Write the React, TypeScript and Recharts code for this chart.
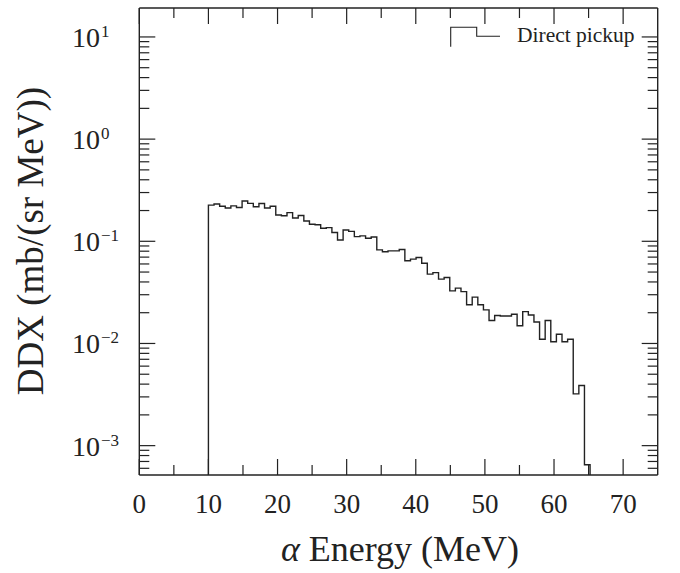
import { LineChart, Line, XAxis, YAxis, Legend } from 'recharts';

// histogram binning (MeV)
const binStart = 10;
const binWidth = 0.812;

// DDX per bin, mb/(sr MeV)
const ddx = [
  0.226, 0.232, 0.22, 0.212, 0.222, 0.214, 0.248, 0.235, 0.218, 0.234,
  0.212, 0.22, 0.181, 0.178, 0.191, 0.169, 0.179, 0.158, 0.147, 0.145,
  0.134, 0.136, 0.122, 0.103, 0.129, 0.125, 0.111, 0.113, 0.107, 0.11,
  0.0824, 0.079, 0.0806, 0.0806, 0.083, 0.0645, 0.0669, 0.0694, 0.061, 0.0477,
  0.0494, 0.0426, 0.0442, 0.0327, 0.0348, 0.0322, 0.0239, 0.0284, 0.0239, 0.0213,
  0.0168, 0.0188, 0.0186, 0.0186, 0.0193, 0.0149, 0.0205, 0.019, 0.0162, 0.011,
  0.0168, 0.0104, 0.0123, 0.0104, 0.011, 0.00321, 0.00388, 0.00065,
];

const xTicks = [0, 5, 10, 15, 20, 25, 30, 35, 40, 45, 50, 55, 60, 65, 70];
const xLabelTicks = [0, 10, 20, 30, 40, 50, 60, 70];
const yDecades = [1e-4, 1e-3, 1e-2, 1e-1, 1, 10];
const yExponents = ['−4', '−3', '−2', '−1', '0', '1'];
const yMin = 5.16e-4;
const yMax = 19.2;

const legendLabel = 'Direct pickup';
const xTitle = 'Energy (MeV)';
const yTitle = 'DDX (mb/(sr MeV))';

const FONT = '"Liberation Serif", "Times New Roman", serif';
const INK = '#222';

const yTicks: number[] = [];
yDecades.forEach((d) => {
  for (let m = 1; m <= 9; m++) {
    const v = d * m;
    if (v >= yMin && v <= yMax) yTicks.push(v);
  }
});

const data: { x: number; y: number }[] = [{ x: binStart, y: yMin }];
ddx.forEach((v, i) => data.push({ x: binStart + i * binWidth, y: v }));
const binEnd = binStart + ddx.length * binWidth;
data.push({ x: binEnd, y: ddx[ddx.length - 1] });
data.push({ x: binEnd, y: yMin });

function decadeIndex(v: number) {
  const lg = Math.log10(v);
  if (Math.abs(lg - Math.round(lg)) > 1e-6) return -1;
  return yDecades.findIndex((d) => Math.abs(Math.log10(d) - lg) < 1e-6);
}

const LeftTick = (props: any) => {
  const { x, y, payload } = props;
  const idx = decadeIndex(payload.value);
  const major = idx >= 0;
  return (
    <g>
      <line x1={x} y1={y} x2={x + (major ? 16 : 10)} y2={y} stroke={INK} strokeWidth={1.2} />
      {major && (
        <text x={72} y={y + 10} fontFamily={FONT} fontSize={28} fill={INK}>
          10
          <tspan dy={-10} dx={1} fontSize={17}>{yExponents[idx]}</tspan>
        </text>
      )}
    </g>
  );
};

const RightTick = (props: any) => {
  const { x, y, payload } = props;
  const major = decadeIndex(payload.value) >= 0;
  return <line x1={x} y1={y} x2={x - (major ? 16 : 10)} y2={y} stroke={INK} strokeWidth={1.2} />;
};

const BottomTick = (props: any) => {
  const { x, y, payload } = props;
  const major = xLabelTicks.includes(payload.value);
  return (
    <g>
      <line x1={x} y1={y} x2={x} y2={y - (major ? 16 : 10)} stroke={INK} strokeWidth={1.2} />
      {major && (
        <text x={x} y={y + 38} textAnchor="middle" fontFamily={FONT} fontSize={27} fill={INK}>
          {payload.value}
        </text>
      )}
    </g>
  );
};

const TopTick = (props: any) => {
  const { x, y, payload } = props;
  const major = xLabelTicks.includes(payload.value);
  return <line x1={x} y1={y} x2={x} y2={y + (major ? 16 : 10)} stroke={INK} strokeWidth={1.2} />;
};

const YTitle = () => (
  <text
    x={43}
    y={241}
    transform="rotate(-90 43 241)"
    textAnchor="middle"
    fontFamily={FONT}
    fontSize={37}
    fill={INK}
  >
    {yTitle}
  </text>
);

const XTitle = () => (
  <text x={400} y={561} textAnchor="middle" fontFamily={FONT} fontSize={36} fill={INK}>
    <tspan fontStyle="italic">α</tspan> {xTitle}
  </text>
);

const LegendBox = () => (
  <svg width={220} height={50}>
    <path d="M10.7 46.7 V27.3 H36.7 V36.3 H60" fill="none" stroke={INK} strokeWidth={1.1} />
    <text x={77} y={41.7} fontFamily={FONT} fontSize={21.5} fill={INK}>
      {legendLabel}
    </text>
  </svg>
);

export default function App() {
  return (
    <div style={{ position: 'absolute', left: 0, top: 0, background: '#fff' }}>
      <LineChart width={680} height={573} data={data} margin={{ top: 0, right: 0, bottom: 0, left: 0 }}>
        <XAxis
          dataKey="x"
          type="number"
          domain={[0, 75]}
          ticks={xTicks}
          interval={0}
          height={98}
          tickSize={0}
          tickMargin={0}
          tickLine={false}
          tick={<BottomTick />}
          axisLine={{ stroke: INK, strokeWidth: 1.4 }}
          label={<XTitle />}
          allowDataOverflow
        />
        <XAxis
          xAxisId="top"
          orientation="top"
          dataKey="x"
          type="number"
          domain={[0, 75]}
          ticks={xTicks}
          interval={0}
          height={8}
          tickSize={0}
          tickMargin={0}
          tickLine={false}
          tick={<TopTick />}
          axisLine={{ stroke: INK, strokeWidth: 1.4 }}
          allowDataOverflow
        />
        <YAxis
          yAxisId="left"
          type="number"
          scale="log"
          domain={[yMin, yMax]}
          ticks={yTicks}
          interval={0}
          width={139.3}
          tickSize={0}
          tickMargin={0}
          tickLine={false}
          tick={<LeftTick />}
          axisLine={{ stroke: INK, strokeWidth: 1.4 }}
          label={<YTitle />}
          allowDataOverflow
        />
        <YAxis
          yAxisId="right"
          orientation="right"
          type="number"
          scale="log"
          domain={[yMin, yMax]}
          ticks={yTicks}
          interval={0}
          width={22.3}
          tickSize={0}
          tickMargin={0}
          tickLine={false}
          tick={<RightTick />}
          axisLine={{ stroke: INK, strokeWidth: 1.4 }}
          allowDataOverflow
        />
        <Legend
          layout="vertical"
          align="center"
          verticalAlign="middle"
          wrapperStyle={{ left: 440, top: 0, width: 220, height: 50 }}
          content={<LegendBox />}
        />
        <Line
          yAxisId="left"
          dataKey="y"
          type="stepAfter"
          stroke={INK}
          strokeWidth={1.4}
          dot={false}
          activeDot={false}
          isAnimationActive={false}
        />
      </LineChart>
    </div>
  );
}
